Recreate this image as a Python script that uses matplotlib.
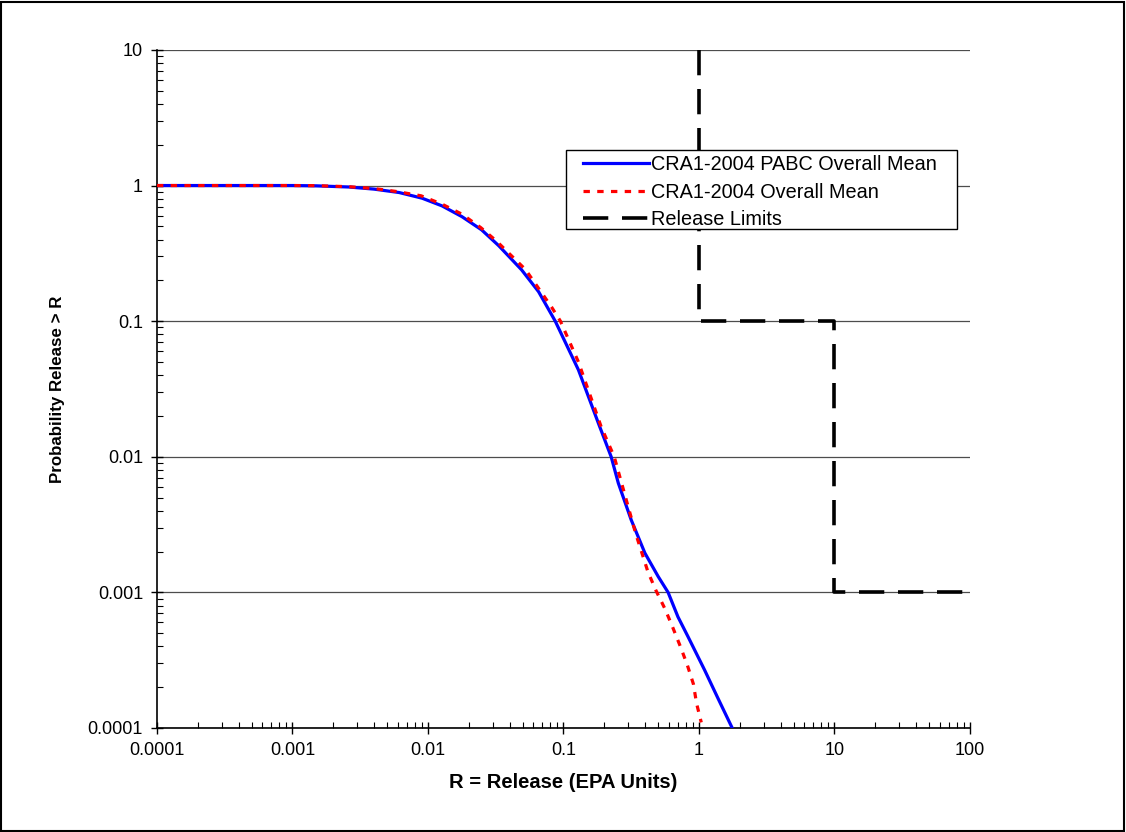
import matplotlib; matplotlib.use("Agg")
import matplotlib.pyplot as plt
from matplotlib.patches import Rectangle
from matplotlib.ticker import LogLocator, FuncFormatter, NullFormatter

plt.rcParams["font.family"] = ["Liberation Sans", "DejaVu Sans"]

# CRA1-2004 PABC overall mean CCDF
pabc_x = [1e-4, 1e-3, 0.0015, 0.00262, 0.004, 0.00613, 0.00904, 0.0127, 0.0178,
          0.0249, 0.0333, 0.0491, 0.0655, 0.087, 0.129, 0.181, 0.225, 0.254, 0.316,
          0.399, 0.5, 0.592, 0.70, 0.83, 1.1, 1.38, 1.76]
pabc_y = [1.0, 1.0, 0.995, 0.975, 0.941, 0.888, 0.807, 0.708, 0.59,
          0.471, 0.36, 0.239, 0.165, 0.10, 0.0437, 0.0177, 0.01, 0.0064, 0.00343,
          0.00195, 0.00131, 0.001, 0.00066, 0.000472, 0.000268, 0.000166, 0.0001]

# CRA1-2004 overall mean CCDF
cra_x = [1e-4, 1e-3, 0.0015, 0.00262, 0.004, 0.0059, 0.0089, 0.0127, 0.0178, 0.0245,
         0.032, 0.0525, 0.0817, 0.095, 0.129, 0.19, 0.237, 0.34, 0.42, 0.48, 0.56,
         0.64, 0.73, 0.82, 0.91, 0.96, 1.04]
cra_y = [1.0, 1.0, 0.998, 0.98, 0.95, 0.903, 0.84, 0.729, 0.615, 0.49,
         0.39, 0.24, 0.127, 0.10, 0.05, 0.0166, 0.01, 0.00275, 0.00142, 0.00104, 0.00076,
         0.000553, 0.000398, 0.000292, 0.000211, 0.000152, 0.00011]

# release limits (step)
lim_x = [1, 1, 10, 10, 100]
lim_y = [10, 0.1, 0.1, 0.001, 0.001]

fig = plt.figure(figsize=(11.26, 8.32), dpi=100)
ax = fig.add_axes([0.1394, 0.125, 0.722, 0.815])

ax.plot(pabc_x, pabc_y, color="#0000FF", lw=2.3, label="CRA1-2004 PABC Overall Mean", zorder=3)
ax.plot(cra_x, cra_y, color="#FF0000", lw=2.3, dashes=(2.0, 2.3),
        label="CRA1-2004 Overall Mean", zorder=4)
ax.plot(lim_x, lim_y, color="black", lw=2.6, dashes=(7, 3.8), label="Release Limits", zorder=5)

ax.set_xscale("log"); ax.set_yscale("log")
ax.set_xlim(1e-4, 100); ax.set_ylim(1e-4, 10)

fmt = FuncFormatter(lambda v, p: f"{v:g}")
for a in (ax.xaxis, ax.yaxis):
    a.set_major_locator(LogLocator(base=10, numticks=20))
    a.set_minor_locator(LogLocator(base=10, subs=range(2, 10), numticks=20))
    a.set_major_formatter(fmt)
    a.set_minor_formatter(NullFormatter())
ax.tick_params(which="major", direction="inout", length=8, width=1, labelsize=13, pad=6)
ax.tick_params(which="minor", direction="in", length=4, width=0.8)

ax.yaxis.grid(True, which="major", color="0.3", lw=0.9)
ax.set_axisbelow(True)
for s in ("top", "right"):
    ax.spines[s].set_visible(False)
for s in ("left", "bottom"):
    ax.spines[s].set_linewidth(1.2)

ax.set_xlabel("R = Release (EPA Units)", fontsize=14.5, fontweight="bold", labelpad=10)
ax.set_ylabel("Probability Release > R", fontsize=12.2, fontweight="bold", labelpad=16)

# legend entries without frame, plus a separate box (wider padding on the left like the original)
leg = ax.legend(loc="upper left", bbox_to_anchor=(0.524, 0.8445), borderaxespad=0,
                fontsize=14.3, handlelength=3.3, frameon=False,
                borderpad=0, labelspacing=0.43, handletextpad=0.15)
leg.set_zorder(7)
ax.add_patch(Rectangle((0.503, 0.736), 0.481, 0.1165, transform=ax.transAxes,
                       facecolor="white", edgecolor="black", lw=1.0, zorder=6))

fig.patches.append(Rectangle((0.001, 0.001), 0.997, 0.997, transform=fig.transFigure,
                             fill=False, edgecolor="black", lw=1.5))

fig.savefig("out.png", dpi=100)
